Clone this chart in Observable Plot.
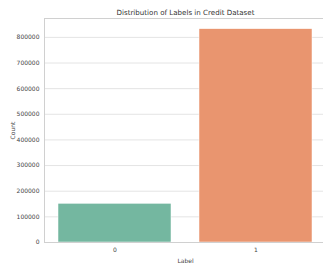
<!DOCTYPE html>
<html><head><meta charset="utf-8">
<script src="https://cdn.jsdelivr.net/npm/d3@7"></script>
<script src="https://cdn.jsdelivr.net/npm/@observablehq/plot@0.6"></script>
<style>
html,body{margin:0;padding:0;background:#fff;overflow:hidden;}
#chart svg{max-width:none !important;}
</style></head><body>
<div id="chart"></div>
<script>
const labels = ["0", "1"];
const counts = [151000, 832000];
const barColors = ["#74b7a0", "#e9956f"];
const yTicks = [0, 100000, 200000, 300000, 400000, 500000, 600000, 700000, 800000];
const title = "Distribution of Labels in Credit Dataset";

const data = labels.map((l, i) => ({label: l, count: counts[i]}));
const font = "DejaVu Sans, sans-serif";

const chart = Plot.plot({
  width: 330,
  height: 268,
  marginTop: 18,
  marginBottom: 26,
  marginLeft: 44,
  marginRight: 4,
  style: {fontFamily: font, fontSize: "6px", color: "#444", background: "#fff", maxWidth: "none"},
  x: {domain: labels, paddingInner: 0.2, paddingOuter: 0.1},
  y: {domain: [0, counts[1] * 1.05]},
  color: {domain: labels, range: barColors},
  marks: [
    Plot.gridY(yTicks, {stroke: "#e4e4e4", strokeOpacity: 1}),
    Plot.barY(data, {x: "label", y: "count", fill: "label", stroke: "#fff", strokeWidth: 0.5}),
    Plot.frame({stroke: "#d0d0d0"}),
    Plot.axisY(yTicks, {tickSize: 0, tickPadding: 5, tickFormat: d => String(d), label: "Count", labelAnchor: "center", labelArrow: "none", labelOffset: 34, fontSize: 6, fill: "#444"}),
    Plot.axisX({tickSize: 0, tickPadding: 5, label: "Label", labelAnchor: "center", labelArrow: "none", labelOffset: 20, fontSize: 6, fill: "#444"}),
    Plot.text([title], {frameAnchor: "top", dy: -9, fontSize: 7.1, fill: "#333"})
  ]
});
document.getElementById("chart").appendChild(chart);
</script>
</body></html>
